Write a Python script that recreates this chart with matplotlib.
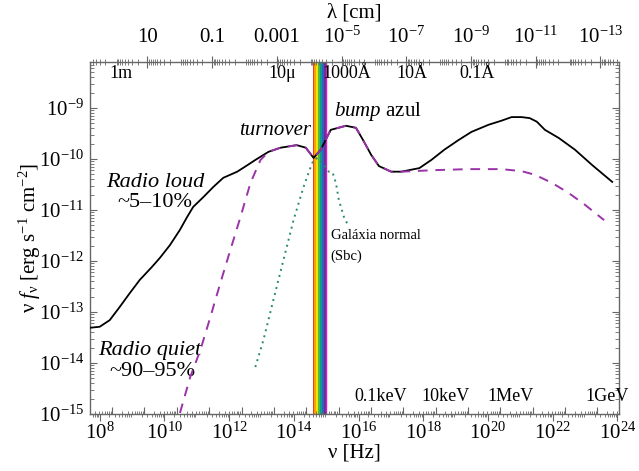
import numpy as np
import matplotlib
matplotlib.use("Agg")
import matplotlib.pyplot as plt

plt.rcParams['font.family'] = ['Liberation Serif', 'DejaVu Serif']
plt.rcParams['mathtext.fontset'] = 'custom'
plt.rcParams['mathtext.rm'] = 'Liberation Serif'
plt.rcParams['mathtext.it'] = 'Liberation Serif:italic'
plt.rcParams['mathtext.bf'] = 'Liberation Serif:bold'

# --- spectral energy distributions (log10 nu [Hz], log10 nu f_nu [erg/s/cm2]) ---
loud_lognu = [7.69, 8.0, 8.31, 8.62, 8.93, 9.24, 9.61, 9.86, 10.17, 10.48, 10.70,
              10.89, 11.20, 11.51, 11.82, 12.25, 12.57, 12.81, 13.22, 13.59, 14.09,
              14.37, 14.61, 14.83, 15.14, 15.61, 15.92, 16.14, 16.39, 16.63, 17.01,
              17.32, 17.88, 18.25, 18.65, 19.09, 19.49, 20.02, 20.42, 20.73, 21.04,
              21.29, 21.51, 21.76, 22.19, 22.69, 23.22, 23.84]
loud_logf = [-13.31, -13.29, -13.16, -12.90, -12.63, -12.37, -12.12, -11.94, -11.69,
             -11.39, -11.14, -10.94, -10.75, -10.55, -10.37, -10.25, -10.12, -10.02,
             -9.86, -9.78, -9.73, -9.78, -9.98, -9.82, -9.43, -9.35, -9.39, -9.63,
             -9.92, -10.14, -10.25, -10.25, -10.18, -10.02, -9.82, -9.63, -9.47,
             -9.33, -9.25, -9.18, -9.18, -9.20, -9.27, -9.43, -9.59, -9.82, -10.12,
             -10.45]

quiet_lognu = [10.48, 10.80, 11.11, 11.42, 11.73, 12.04, 12.35, 12.66, 12.97, 13.22,
               13.59, 14.09, 14.37, 14.61, 14.83, 15.14, 15.61, 15.92, 16.14, 16.39,
               16.63, 17.01, 17.32, 18.34, 19.40, 20.42, 21.04, 21.45, 21.98, 22.50,
               23.00, 23.59]
quiet_logf = [-14.98, -14.27, -13.75, -13.10, -12.43, -11.78, -11.14, -10.47, -10.02,
              -9.86, -9.78, -9.73, -9.78, -9.98, -9.82, -9.43, -9.35, -9.39, -9.63,
              -9.92, -10.14, -10.25, -10.25, -10.22, -10.20, -10.20, -10.24, -10.31,
              -10.47, -10.67, -10.90, -11.20]

galaxy_lognu = [12.81, 13.06, 13.37, 13.68, 13.99, 14.30, 14.52, 14.61, 14.74, 14.89,
                15.08, 15.20, 15.30, 15.39, 15.55, 15.70]
galaxy_logf = [-14.08, -13.55, -12.76, -11.98, -11.20, -10.55, -10.16, -10.02, -9.98,
               -10.08, -10.25, -10.27, -10.47, -10.80, -11.14, -11.33]

# visible band (log10 nu edges) and its colours, red to violet
visible_lognu = [14.58, 14.98]
visible_colors = ['#e8401c', '#f7a400', '#f2e200', '#4cb848', '#0f9a8c', '#2f62c0', '#6a2c9a']

# axis ranges
nu_lim = (10**7.70, 10**24.05)
f_lim = (1e-15, 10**-8.1)

# tick labels
nu_ticks = [1e8, 1e10, 1e12, 1e14, 1e16, 1e18, 1e20, 1e22, 1e24]
nu_ticklabels = [r'$10^{8}$', r'$10^{10}$', r'$10^{12}$', r'$10^{14}$', r'$10^{16}$',
                 r'$10^{18}$', r'$10^{20}$', r'$10^{22}$', r'$10^{24}$']
f_ticks = [1e-15, 1e-14, 1e-13, 1e-12, 1e-11, 1e-10, 1e-9]
f_ticklabels = [r'$10^{-15}$', r'$10^{-14}$', r'$10^{-13}$', r'$10^{-12}$',
                r'$10^{-11}$', r'$10^{-10}$', r'$10^{-9}$']
lam_ticks = [10, 0.1, 1e-3, 1e-5, 1e-7, 1e-9, 1e-11, 1e-13]
lam_ticklabels = ['10', '0.1', '0.001', r'$10^{-5}$', r'$10^{-7}$', r'$10^{-9}$',
                  r'$10^{-11}$', r'$10^{-13}$']

# wavelength and energy markers written inside the frame
lam_marks_cm = [100.0, 1e-3, 1e-5, 1e-7, 1e-9]
lam_mark_labels = ['1m', u'10\u03bc', u'1000\u00c5', u'10\u00c5', u'0.1\u00c5']
energy_marks_ev = [1e2, 1e4, 1e6, 1e9]
energy_mark_labels = ['0.1keV', '10keV', '1MeV', '1GeV']

C_CM = 2.998e10          # speed of light [cm/s]
H_EV = 4.1357e-15        # Planck constant [eV s]

fig = plt.figure(figsize=(6.39, 4.71), dpi=100)
ax = fig.add_axes([90/639, 1-414/471, 529/639, (414-62)/471])
ax.set_xscale('log')
ax.set_yscale('log')
ax.set_xlim(*nu_lim)
ax.set_ylim(*f_lim)

# visible band
edges = np.linspace(visible_lognu[0], visible_lognu[1], len(visible_colors) + 1)
for i, col in enumerate(visible_colors):
    ax.axvspan(10**edges[i], 10**edges[i+1], color=col, lw=0, zorder=1)
ax.axvline(10**visible_lognu[1], color='#d020c0', lw=1.0, zorder=1)

ax.plot(10**np.array(galaxy_lognu), 10**np.array(galaxy_logf), ls=(0, (1, 2.2)),
        color='#2a8a6a', lw=1.4, zorder=3)
ax.plot(10**np.array(loud_lognu), 10**np.array(loud_logf), color='black', lw=1.3, zorder=3)
ax.plot(10**np.array(quiet_lognu), 10**np.array(quiet_logf), ls=(0, (5, 4)),
        color='#9a32a8', lw=1.4, zorder=4)

spine_col = '#666666'
for s in ax.spines.values():
    s.set_color(spine_col)
    s.set_linewidth(1.0)

LOC = matplotlib.ticker.LogLocator
NF = matplotlib.ticker.NullFormatter
SUBS = np.arange(2, 10)

ax.set_xticks(nu_ticks)
ax.set_xticklabels(nu_ticklabels)
ax.set_yticks(f_ticks)
ax.set_yticklabels(f_ticklabels)
ax.xaxis.set_minor_locator(LOC(base=10, subs=SUBS, numticks=60))
ax.yaxis.set_minor_locator(LOC(base=10, subs=SUBS, numticks=60))
ax.xaxis.set_minor_formatter(NF())
ax.yaxis.set_minor_formatter(NF())
ax.tick_params(axis='x', which='both', direction='out', top=False, bottom=True,
               colors=spine_col, labelcolor='black', labelsize=15, pad=1)
ax.tick_params(axis='x', which='major', length=5)
ax.tick_params(axis='x', which='minor', length=2.5)
ax.tick_params(axis='y', which='both', direction='in', left=True, right=True,
               colors=spine_col, labelcolor='black', labelsize=15, pad=4)
ax.tick_params(axis='y', which='major', length=5)
ax.tick_params(axis='y', which='minor', length=2.8)

ax.set_xlabel(u'\u03bd [Hz]', fontsize=15, labelpad=0)
ax.set_ylabel(u'\u03bd $f_{\\mathrm{\u03bd}}$ [erg s$^{-1}$ cm$^{-2}$]', fontsize=15, labelpad=-3)

# wavelength axis on top
axl = ax.twiny()
axl.set_xscale('log')
axl.set_xlim(C_CM / nu_lim[0], C_CM / nu_lim[1])
axl.set_xticks(lam_ticks)
axl.set_xticklabels(lam_ticklabels)
axl.xaxis.set_minor_locator(LOC(base=10, subs=SUBS, numticks=60))
axl.xaxis.set_minor_formatter(NF())
axl.tick_params(axis='x', which='both', direction='inout', colors=spine_col,
                labelcolor='black', labelsize=15, pad=6)
axl.tick_params(axis='x', which='major', length=9)
axl.tick_params(axis='x', which='minor', length=5)
for s in axl.spines.values():
    s.set_visible(False)
axl.set_xlabel(u'\u03bb [cm]', fontsize=15, labelpad=6)

# energy ticks along the bottom, inside
axe = ax.twiny()
axe.set_xscale('log')
axe.set_xlim(H_EV * nu_lim[0], H_EV * nu_lim[1])
axe.xaxis.set_ticks_position('bottom')
axe.xaxis.set_major_locator(LOC(base=10, numticks=40))
axe.xaxis.set_minor_locator(LOC(base=10, subs=SUBS, numticks=60))
axe.tick_params(axis='x', which='both', direction='in', colors=spine_col,
                labelbottom=False, labeltop=False)
axe.tick_params(axis='x', which='major', length=5)
axe.tick_params(axis='x', which='minor', length=2.5)
for s in axe.spines.values():
    s.set_visible(False)

for lam, lab in zip(lam_marks_cm, lam_mark_labels):
    ax.annotate(lab, xy=(C_CM / lam, 10**-8.32), xytext=(4, 0), textcoords='offset points',
                ha='center', va='center', fontsize=13)
for e, lab in zip(energy_marks_ev, energy_mark_labels):
    ax.annotate(lab, xy=(e / H_EV, 10**-14.65), xytext=(7, 0), textcoords='offset points',
                ha='center', va='center', fontsize=13)

ax.text(10**13.43, 10**-9.45, 'turnover', style='italic', fontsize=15, ha='center', va='center')
ax.text(10**15.25, 10**-9.08, r'$\mathit{bump}$ azul', fontsize=15, ha='left', va='center')
ax.text(10**9.71, 10**-10.47, 'Radio loud', style='italic', fontsize=16, ha='center', va='center')
ax.text(10**9.71, 10**-10.86, u'~5\u201310%', fontsize=16, ha='center', va='center')
ax.text(10**9.55, 10**-13.76, 'Radio quiet', style='italic', fontsize=16, ha='center', va='center')
ax.text(10**9.62, 10**-14.16, u'~90\u201395%', fontsize=16, ha='center', va='center')
ax.text(10**15.14, 10**-11.51, u'Gal\u00e1xia normal', fontsize=10.5, ha='left', va='center')
ax.text(10**15.14, 10**-11.90, '(Sbc)', fontsize=10.5, ha='left', va='center')

fig.savefig('out.png', dpi=100)
